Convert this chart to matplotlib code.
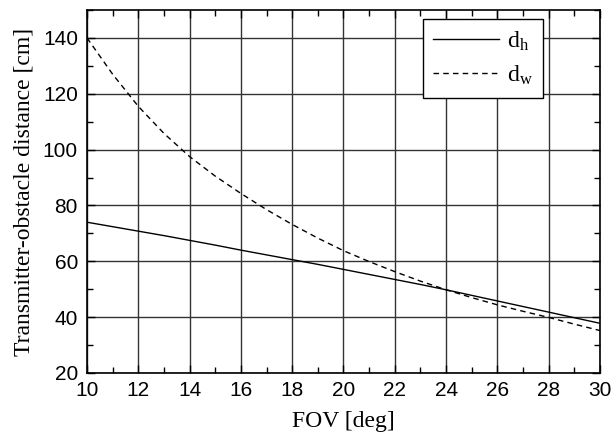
import numpy as np
import matplotlib
matplotlib.use("Agg")
import matplotlib.pyplot as plt
from matplotlib.ticker import MultipleLocator

# ── Data ─────────────────────────────────────────────────────────────────────
fov = [10, 11, 12, 13, 14, 15, 16, 17, 18, 19, 20,
       21, 22, 23, 24, 25, 26, 27, 28, 29, 30]
d_h = [74.0, 72.4, 70.8, 69.2, 67.5, 65.8, 64.0, 62.3, 60.6, 58.9, 57.1,
       55.3, 53.5, 51.7, 49.8, 47.8, 45.8, 43.8, 41.8, 39.8, 37.8]
d_w = [140.0, 127.0, 115.5, 105.8, 97.5, 90.5, 84.3, 78.5, 73.2, 68.3, 63.8,
       59.9, 56.3, 52.9, 49.8, 47.0, 44.4, 42.1, 39.9, 37.5, 35.2]

# ── Style ────────────────────────────────────────────────────────────────────
plt.rcParams["font.family"] = "Liberation Sans"
plt.rcParams["mathtext.fontset"] = "custom"
plt.rcParams["mathtext.rm"] = "Liberation Serif"
plt.rcParams["mathtext.it"] = "Liberation Serif:italic"

fig = plt.figure(figsize=(6.13, 4.37), dpi=100)
ax = fig.add_axes([87 / 613, 1 - 373 / 437, 513 / 613, 363 / 437])

ax.plot(fov, d_h, color="black", linewidth=1.0, label=r"d$_{\mathrm{h}}$")
ax.plot(fov, d_w, color="black", linewidth=1.0, linestyle=(0, (4, 3)),
        label=r"d$_{\mathrm{w}}$")

ax.set_xlim(10, 30)
ax.set_ylim(20, 150)
ax.xaxis.set_major_locator(MultipleLocator(2))
ax.xaxis.set_minor_locator(MultipleLocator(1))
ax.yaxis.set_major_locator(MultipleLocator(20))
ax.yaxis.set_minor_locator(MultipleLocator(10))

ax.grid(which="major", color="0.2", linewidth=1.0)
ax.set_axisbelow(True)

ax.tick_params(which="both", direction="in", top=True, right=True,
               labelsize=15)
ax.tick_params(axis="x", pad=6)
ax.tick_params(axis="y", pad=6.5)
ax.tick_params(which="major", length=6, width=1.0)
ax.tick_params(which="minor", length=4, width=1.0)
for sp in ax.spines.values():
    sp.set_linewidth(1.2)

ax.set_xlabel("FOV [deg]", family="Liberation Serif", fontsize=17, labelpad=8)
ax.set_ylabel("Transmitter-obstacle distance [cm]", family="Liberation Serif",
              fontsize=17, labelpad=6)

leg = ax.legend(loc="upper right", bbox_to_anchor=(0.889, 0.975),
                borderaxespad=0,
                prop={"family": "Liberation Serif", "size": 17},
                fancybox=False, framealpha=1, edgecolor="black",
                handlelength=2.8, borderpad=0.45, labelspacing=0.45,
                handletextpad=0.3)
leg.get_frame().set_linewidth(1.0)

fig.savefig("out.png", dpi=100)
